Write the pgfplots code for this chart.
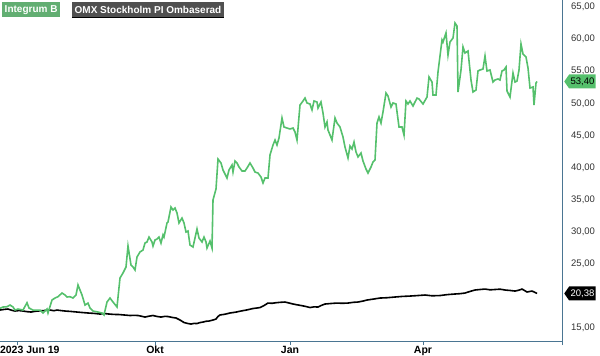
\documentclass[border=0pt]{standalone}
\usepackage{pgfplots}
\pgfplotsset{compat=1.18}
\usepackage{fontspec}
\setmainfont{Liberation Sans}
\usetikzlibrary{shapes.symbols}
\definecolor{lgreen}{HTML}{55C06C}
\definecolor{boxgreen}{HTML}{62AE72}
\definecolor{boxgray}{HTML}{505050}
\definecolor{axisblue}{HTML}{4A7592}
\definecolor{ticktext}{HTML}{333333}
\begin{document}
\begin{tikzpicture}
\path[use as bounding box] (0,-15bp) rectangle (600bp,341bp);
\begin{axis}[
  scale only axis, width=562bp, height=341bp,
  xmin=0, xmax=562, ymin=12.98, ymax=66.09,
  axis x line*=bottom, axis y line*=right,
  axis line style={color=axisblue, line width=0.8bp},
  clip=false,
  xtick={17,155,290,423,562},
  xticklabels={{\makebox[0pt][l]{\hspace{-17bp}2023 Jun 19}},Okt,Jan,Apr,{}},
  x tick style={color=axisblue, line width=0.8bp},
  major tick length=4bp, tick align=outside,
  xticklabel style={font=\bfseries\fontsize{10.5bp}{12bp}\selectfont, text=black, anchor=north, inner sep=0pt, yshift=-1bp},
  ytick={15,25,30,35,40,45,50,55,60,65},
  y tick style={draw=none},
  yticklabel style={font=\fontsize{9.5bp}{11bp}\selectfont, text=ticktext, anchor=west, inner sep=0pt, xshift=5bp},
  /pgf/number format/.cd, fixed, fixed zerofill, precision=2, use comma, assume math mode=true,
]
% OMX Stockholm PI Ombaserad
\addplot[black, line width=1.6bp] coordinates {
(0,17.80)(4,17.90)(8,17.96)(12,17.75)(15,17.65)(19,17.72)(23,17.65)(27,17.55)(31,17.49)(35,17.60)(38,17.65)(44,17.72)(50,17.80)(54,17.70)(57,17.80)(61,17.72)(65,17.65)(71,17.58)(77,17.49)(82,17.42)(88,17.34)(94,17.28)(100,17.18)(105,17.25)(109,17.18)(114,17.12)(119,17.10)(125,17.02)(130,16.95)(134,16.98)(138,16.95)(142,16.82)(145,16.71)(149,16.85)(153,16.95)(157,16.80)(161,16.71)(165,16.82)(168,16.79)(172,16.66)(176,16.56)(180,16.25)(184,15.86)(188,15.70)(191,15.62)(194,15.72)(197,15.70)(200,15.85)(203,15.93)(206,16.05)(209,16.09)(213,16.25)(216,16.40)(218,16.80)(220,17.03)(225,17.15)(230,17.34)(236,17.48)(241,17.65)(247,17.82)(253,18.04)(257,18.12)(260,18.19)(264,18.50)(268,18.89)(272,18.85)(276,18.94)(280,19.00)(285,19.05)(289,18.90)(293,18.74)(297,18.62)(302,18.48)(306,18.35)(310,18.19)(314,18.30)(318,18.27)(321,18.50)(325,18.74)(331,18.82)(337,18.89)(342,18.85)(348,18.89)(353,19.00)(358,19.05)(363,19.20)(367,19.36)(373,19.50)(380,19.67)(387,19.72)(395,19.83)(402,19.92)(410,19.98)(417,20.05)(425,20.14)(432,20.02)(440,20.06)(447,20.20)(455,20.30)(460,20.35)(465,20.45)(470,20.70)(475,20.92)(480,21.00)(485,21.07)(490,20.95)(495,21.00)(500,21.05)(505,20.92)(510,20.85)(515,20.76)(519,20.90)(522,21.07)(525,20.80)(527,20.61)(530,20.70)(532,20.76)(535,20.55)(537,20.38)
};
% Integrum B
\addplot[lgreen, line width=1.6bp] coordinates {
(0,18.07)(3,18.27)(7,18.32)(10,18.58)(13,18.27)(15,17.80)(18,17.96)(23,17.80)(27,18.94)(29,18.12)(33,17.80)(40,17.80)(43,17.34)(47,17.96)(48,17.34)(52,19.36)(55,19.67)(58,19.88)(62,20.45)(65,20.14)(67,19.83)(70,19.88)(73,19.67)(76,20.14)(78,21.70)(82,20.14)(85,18.58)(88,18.89)(90,18.12)(93,17.65)(98,17.49)(102,17.34)(104,17.03)(107,19.05)(110,19.67)(113,19.05)(117,18.27)(120,22.79)(123,23.57)(126,24.50)(128,27.77)(131,24.81)(133,24.50)(135,24.03)(137,26.06)(140,26.84)(143,27.15)(145,28.24)(147,28.40)(149,29.17)(152,28.40)(153,27.77)(155,28.71)(157,28.86)(159,29.17)(161,28.24)(163,29.49)(164,29.17)(167,31.36)(168,31.51)(171,33.85)(173,33.38)(175,33.69)(177,32.91)(179,31.36)(182,32.13)(184,31.36)(186,29.95)(188,30.11)(190,27.93)(193,27.62)(195,29.02)(197,30.42)(199,29.02)(202,28.40)(204,29.17)(206,28.40)(207,27.46)(210,28.55)(212,27.46)(213,34.94)(216,36.65)(218,41.32)(221,40.70)(223,39.61)(227,38.36)(229,39.61)(232,40.39)(233,39.30)(235,41.02)(237,40.70)(239,40.08)(242,39.46)(245,39.46)(247,39.92)(250,40.70)(253,39.92)(255,39.30)(258,39.14)(261,38.52)(263,37.59)(265,38.36)(268,38.36)(270,41.95)(273,43.50)(275,44.28)(277,43.50)(279,44.60)(282,47.71)(284,46.31)(287,46.15)(290,46.00)(293,46.15)(295,45.53)(297,44.28)(300,49.73)(303,50.36)(305,50.82)(307,50.05)(310,49.89)(312,48.96)(314,50.36)(317,50.20)(318,49.27)(321,50.20)(323,48.49)(325,46.31)(327,47.09)(328,45.84)(332,44.28)(335,47.71)(337,46.93)(340,46.31)(343,44.75)(345,43.19)(348,41.48)(350,43.35)(352,42.88)(354,43.97)(356,42.42)(358,41.64)(361,42.26)(363,41.01)(366,39.77)(368,39.14)(371,40.08)(373,40.86)(375,41.17)(377,46.93)(379,47.87)(381,46.93)(383,48.65)(386,51.60)(388,51.14)(391,49.42)(393,50.05)(396,49.89)(399,46.31)(402,46.31)(404,45.06)(406,50.36)(408,49.89)(410,50.36)(413,49.58)(417,50.82)(419,50.67)(423,49.89)(427,50.98)(429,54.10)(432,53.32)(433,51.29)(436,51.29)(438,54.88)(442,59.86)(443,59.55)(446,60.95)(448,57.52)(450,59.55)(453,60.17)(455,62.51)(457,62.04)(458,51.76)(461,55.19)(463,58.77)(465,57.83)(468,58.15)(471,53.63)(473,51.76)(476,52.07)(478,55.03)(480,55.19)(483,55.34)(485,57.37)(487,55.03)(490,55.19)(493,53.32)(495,53.63)(498,53.79)(500,53.63)(502,55.03)(504,55.19)(506,55.65)(507,51.92)(510,50.98)(513,54.72)(515,53.32)(517,53.47)(519,55.19)(521,59.24)(523,57.68)(526,57.21)(528,55.50)(530,52.38)(533,52.54)(534,49.73)(536,53.16)(537,53.40)
};
% value tags
\node[signal, signal to=west, signal pointer angle=110, fill=lgreen, text=black, inner sep=1.4bp, minimum height=14bp, font=\fontsize{9.5bp}{11bp}\selectfont, anchor=west] at (axis cs:564,53.40) {53,40};
\node[signal, signal to=west, signal pointer angle=110, fill=black, text=white, inner sep=1.4bp, minimum height=14bp, font=\fontsize{9.5bp}{11bp}\selectfont, anchor=west] at (axis cs:564,20.38) {20,38};
% legend
\node[fill=boxgreen, text=white, anchor=north west, inner sep=2.5bp, minimum height=15bp, font=\bfseries\fontsize{10bp}{12bp}\selectfont] at (rel axis cs:0.0036,0.9941) {Integrum B};
\node[fill=boxgray, text=white, anchor=north west, inner sep=2.5bp, minimum height=15bp, font=\bfseries\fontsize{10bp}{12bp}\selectfont] (omx) at (rel axis cs:0.128,0.9941) {OMX Stockholm PI Ombaserad};
\draw[black, line width=1.2bp] (omx.south west) -- (omx.south east);
\end{axis}
\end{tikzpicture}
\end{document}
